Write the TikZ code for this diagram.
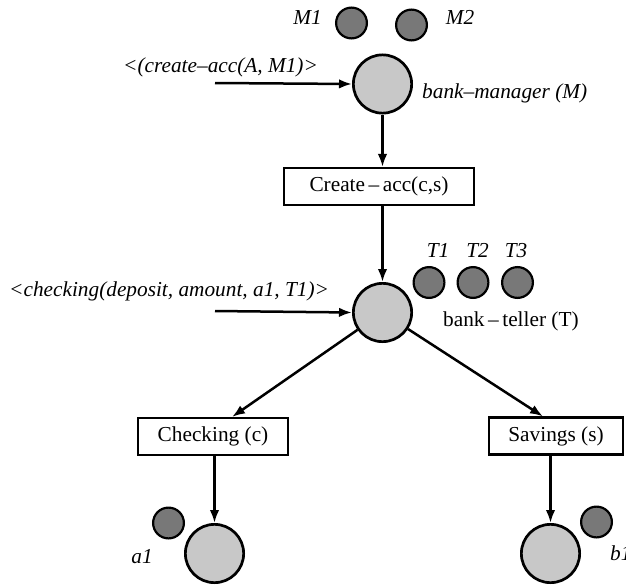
\documentclass[tikz,border=0pt]{standalone}
\usepackage{fontspec}
\setmainfont{Liberation Serif}
\usetikzlibrary{arrows.meta}
\definecolor{placefill}{RGB}{200,200,200}
\definecolor{tokenfill}{RGB}{120,120,120}
\tikzset{
  place/.style={circle, draw=black, line width=2.7pt, fill=placefill,
                minimum size=58.3pt, inner sep=0pt},
  token/.style={circle, draw=black, line width=2.2pt, fill=tokenfill,
                minimum size=30.8pt, inner sep=0pt},
  trans/.style={rectangle, draw=black, line width=2.5pt, fill=white,
                minimum height=36.6pt, inner sep=0pt, font=\lbl},
  flow/.style={line width=2.5pt, -{Latex[length=13pt,width=9.5pt]}},
  itlabel/.style={inner sep=0pt, font=\lbl\itshape},
  rmlabel/.style={inner sep=0pt, font=\lbl},
}
\newcommand{\lbl}{\fontsize{21.3}{25}\selectfont}
\begin{document}
\begin{tikzpicture}[x=1pt, y=-1pt]
  \clip (0,0) rectangle (626,586);
  \fill[white] (0,0) rectangle (626,586);

  % manager place with its tokens
  \node[place] (mgr) at (382.5,84) {};
  \node[token] (m1) at (351.5,23) {};
  \node[token] (m2) at (411.5,25) {};
  \node[itlabel, anchor=base] (m1lbl) at (307.5,25) {M1};
  \node[itlabel, anchor=base] (m2lbl) at (460,25) {M2};
  \node[itlabel, anchor=base west] (mgrlbl) at (422,98) {bank--manager (M)};
  \node[itlabel, anchor=base west] (createlbl) at (123,72) {<(create--acc(A, M1)>};
  \coordinate (createin) at (215,83);

  % account creation transition
  \node[trans, minimum width=189.6pt] (create) at (379,186.5) {Create\,--\,acc(c,s)};

  % teller place with its tokens
  \node[place] (tel) at (382.5,312.5) {};
  \node[token] (t1) at (429,282.5) {};
  \node[token] (t2) at (473,282.5) {};
  \node[token] (t3) at (517.5,282.5) {};
  \node[itlabel, anchor=base] (t1lbl) at (438,257) {T1};
  \node[itlabel, anchor=base] (t2lbl) at (477.5,257) {T2};
  \node[itlabel, anchor=base] (t3lbl) at (516,257) {T3};
  \node[rmlabel, anchor=base west] (tellbl) at (443,326) {bank\,--\,teller (T)};
  \node[itlabel, anchor=base west] (chklbl) at (9,296) {<checking(deposit, amount, a1, T1)>};
  \coordinate (chkin) at (215,311);

  % account transitions
  \node[trans, minimum width=149.6pt] (chk) at (213,436.5) {Checking (c)};
  \node[trans, minimum width=133.6pt] (sav) at (556,436) {Savings (s)};
  \coordinate (chktip) at ([xshift=19pt]chk.north);
  \coordinate (savtip) at ([xshift=-13pt]sav.north);

  % account places with their tokens
  \node[place] (aplace) at (214.5,553.5) {};
  \node[place] (bplace) at (550.5,553.5) {};
  \node[token] (a1) at (168.5,523) {};
  \node[token] (b1) at (596.5,522) {};
  \node[itlabel, anchor=base] (a1lbl) at (142,563) {a1};
  \node[itlabel, anchor=base west] (b1lbl) at (610,560) {b1};

  % connectors
  \draw[flow] (createin) -- (mgr.west);
  \draw[flow] (mgr.south) -- (mgr.south |- create.north);
  \draw[flow] (tel.north |- create.south) -- (tel.north);
  \draw[flow] (chkin) -- (tel.west);
  \draw[flow] (tel) -- (chktip);
  \draw[flow] (tel) -- (savtip);
  \draw[flow] (aplace.north |- chk.south) -- (aplace.north);
  \draw[flow] (bplace.north |- sav.south) -- (bplace.north);
\end{tikzpicture}
\end{document}
